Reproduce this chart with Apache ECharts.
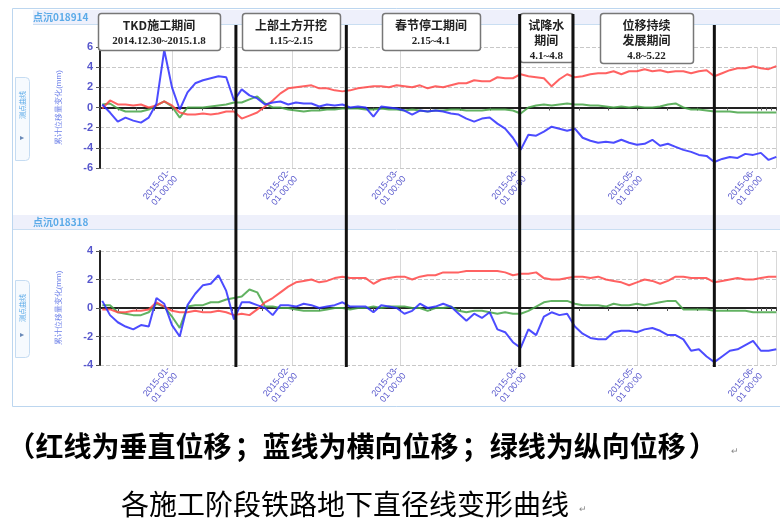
<!DOCTYPE html>
<html><head><meta charset="utf-8">
<script src="https://cdn.jsdelivr.net/npm/echarts@6/dist/echarts.min.js"></script>
<style>html,body{margin:0;padding:0;background:#fff}#c{width:780px;height:526px}</style>
</head><body><div id="c"></div>
<script>
// sample dates: every 2 days from 2014-12-14
const sampleStart = [2014, 11, 14];
const sampleStepDays = 2;

const topRed = [-0.1,0.7,0.3,0.3,0.2,0.3,0.0,0.2,0.6,0.2,
 -0.5,-0.7,-0.7,-0.6,-0.7,-0.6,-0.4,-0.4,-1.1,-0.8,
 -0.5,0.1,0.7,1.4,1.9,2.0,2.1,2.2,1.9,1.9,
 1.7,1.6,1.7,1.9,2.0,2.1,2.1,2.0,2.2,2.1,
 2.0,2.2,1.9,2.1,2.0,2.2,2.4,2.4,2.7,2.6,
 2.6,3.0,2.9,2.9,3.3,3.1,3.0,2.9,2.1,2.8,
 3.3,3.0,3.1,3.3,3.4,3.4,3.6,3.3,3.6,3.6,
 3.8,3.6,3.7,3.5,3.6,3.6,3.4,3.6,3.7,3.1,
 3.4,3.7,3.9,3.9,4.1,3.9,3.8,4.1];
const topBlue = [0.3,-0.5,-1.4,-1.0,-1.3,-1.5,-1.0,0.4,5.7,2.0,
 -0.2,1.5,2.4,2.7,2.9,3.1,3.0,0.7,1.8,1.2,
 0.9,0.3,0.5,0.6,0.3,0.5,0.4,0.4,0.1,0.3,
 0.2,0.3,0.0,0.1,0.0,-0.9,0.1,0.0,-0.1,-0.3,
 -0.7,-0.3,-0.4,-0.3,-0.4,-0.6,-0.7,-1.1,-1.4,-1.1,
 -1.0,-1.6,-2.1,-3.0,-4.2,-2.7,-2.8,-2.4,-1.9,-2.1,
 -2.3,-2.1,-3.0,-3.3,-3.5,-3.4,-3.5,-3.2,-3.5,-3.7,
 -3.6,-3.2,-3.8,-3.6,-3.9,-4.2,-4.4,-4.7,-4.8,-5.4,
 -5.1,-4.9,-5.0,-4.6,-4.7,-4.5,-5.2,-4.9];
const topGreen = [0.3,0.4,-0.1,-0.4,-0.4,-0.4,-0.2,0.2,0.6,0.1,
 -1.0,0.0,0.0,0.0,0.1,0.2,0.3,0.5,0.5,0.8,
 1.1,0.4,0.0,0.0,-0.2,-0.3,-0.4,-0.3,-0.3,-0.2,
 -0.2,-0.1,-0.1,-0.1,-0.2,-0.2,-0.1,-0.2,-0.2,-0.3,
 -0.2,-0.3,-0.4,-0.3,-0.3,-0.2,-0.2,-0.3,-0.3,-0.3,
 -0.2,-0.2,-0.2,-0.3,-0.6,0.0,0.2,0.3,0.2,0.3,
 0.4,0.3,0.3,0.2,0.2,0.1,0.0,0.1,0.0,0.1,
 0.0,0.0,0.1,0.3,0.4,0.0,-0.2,-0.2,-0.3,-0.4,
 -0.4,-0.4,-0.5,-0.5,-0.5,-0.5,-0.5,-0.5];

const bottomRed = [-0.1,-0.1,-0.3,-0.3,-0.2,-0.2,-0.1,0.4,0.1,-0.2,
 -0.3,-0.3,-0.2,-0.3,-0.3,-0.2,-0.3,-0.5,-0.4,-0.5,
 -0.1,0.4,0.7,1.1,1.5,1.8,1.9,2.0,1.8,1.9,
 2.1,2.2,2.1,2.1,2.1,1.7,2.0,2.1,2.2,2.2,
 2.0,2.2,2.3,2.3,2.5,2.5,2.5,2.6,2.6,2.6,
 2.6,2.6,2.5,2.3,2.4,2.4,2.5,2.1,2.0,2.0,
 2.1,2.2,2.2,2.1,2.2,2.0,1.9,1.8,1.6,1.8,
 2.0,1.9,1.7,1.9,2.2,2.2,2.1,2.1,2.1,1.8,
 1.9,2.0,2.1,2.0,2.0,2.1,2.2,2.2];
const bottomBlue = [0.5,-0.5,-1.0,-1.3,-1.5,-1.2,-1.3,0.7,0.3,-1.2,
 -2.0,0.2,1.0,1.6,1.7,2.3,1.2,-0.8,0.4,0.4,
 0.2,0.0,-0.5,0.2,0.2,0.1,0.3,0.2,0.0,0.1,
 0.2,0.4,0.1,0.1,0.1,-0.3,0.2,0.1,0.0,-0.4,
 -0.2,0.3,0.0,0.1,0.3,0.1,-0.4,-0.9,-0.4,-0.7,
 -0.3,-1.5,-1.7,-2.4,-2.8,-1.5,-1.9,-0.6,-0.3,-0.5,
 -0.4,-1.3,-1.8,-2.1,-2.2,-2.2,-1.7,-1.6,-1.6,-1.7,
 -1.5,-1.4,-1.6,-1.9,-1.9,-2.2,-3.0,-2.9,-3.4,-3.8,
 -3.4,-3.0,-2.9,-2.6,-2.3,-3.0,-3.0,-2.9];
const bottomGreen = [0.2,0.2,-0.3,-0.4,-0.5,-0.5,-0.3,0.3,0.1,-0.6,
 -1.4,0.1,0.2,0.2,0.4,0.4,0.6,0.7,0.8,1.3,
 1.1,0.1,0.1,0.0,0.0,-0.1,-0.2,-0.2,-0.2,-0.1,
 0.0,0.0,-0.1,0.0,0.0,0.1,0.0,0.1,0.1,0.1,
 0.0,0.0,-0.2,0.0,0.0,0.1,-0.2,-0.3,-0.2,-0.2,
 -0.3,-0.4,-0.3,-0.4,-0.4,-0.2,0.1,0.4,0.5,0.5,
 0.5,0.3,0.2,0.2,0.2,0.1,0.3,0.2,0.2,0.3,
 0.2,0.3,0.4,0.5,0.5,-0.1,-0.1,-0.1,-0.1,-0.2,
 -0.2,-0.2,-0.2,-0.2,-0.3,-0.3,-0.3,-0.3];

const topYTicks = [-6, 6, 2];
const bottomYTicks = [-4, 4, 2];
const panelTitles = ['点沉018914', '点沉018318'];
const yAxisName = '累计位移量变化(mm)';
const tabText = '测点曲线';
const phaseDates = [[2015,0,17,12],[2015,1,15,0],[2015,2,31,18],[2015,3,14,12],[2015,4,21,0]];
const phaseTitles = ['TKD施工期间', '上部土方开挖', '春节停工期间', '试降水\n期间', '位移持续\n发展期间'];
const phaseRanges = ['2014.12.30~2015.1.8', '1.15~2.15', '2.15~4.1', '4.1~4.8', '4.8~5.22'];
const captionLine1 = '（红线为垂直位移；蓝线为横向位移；绿线为纵向位移）';
const captionLine2 = '各施工阶段铁路地下直径线变形曲线';

const dates = topRed.map((_, i) => new Date(sampleStart[0], sampleStart[1], sampleStart[2] + sampleStepDays * i).getTime());
const xMin = new Date(2014, 11, 13, 10).getTime();
const xMax = new Date(2015, 5, 5, 22).getTime();
const DAY = 86400000;

const RED = 'rgba(255,70,70,0.85)', BLUE = 'rgba(45,45,255,0.85)', GREEN = 'rgba(70,165,70,0.85)';
const LABEL_BLUE = '#5656cc';

function fmtDate(v) {
  const d = new Date(v);
  return d.getFullYear() + '-' + String(d.getMonth() + 1).padStart(2, '0') + '-\n' + String(d.getDate()).padStart(2, '0') + ' 00:00';
}
function xAxis(gi) {
  return {
    type: 'time', gridIndex: gi, min: xMin, max: xMax,
    minInterval: 28 * DAY, maxInterval: 31 * DAY, splitNumber: 6,
    axisLine: { lineStyle: { color: '#222', width: 2 } },
    axisTick: { show: true, length: 3, lineStyle: { color: '#444' } },
    minorTick: { show: true, splitNumber: 4, length: 3, lineStyle: { color: '#555' } },
    splitLine: { show: true, lineStyle: { color: '#d8d8d8', width: 1 } },
    axisLabel: { rotate: 50, fontSize: 9, color: LABEL_BLUE, margin: 6, formatter: fmtDate, lineHeight: 10 }
  };
}
function yAxis(gi, t) {
  return {
    type: 'value', gridIndex: gi, min: t[0], max: t[1], interval: t[2],
    name: yAxisName, nameLocation: 'middle', nameGap: 37, nameRotate: 90,
    nameTextStyle: { color: '#6a7ee8', fontSize: 8 },
    axisLine: { show: true, lineStyle: { color: '#222', width: 2 } },
    axisTick: { show: true, length: 4, lineStyle: { color: '#555' } },
    axisLabel: { color: LABEL_BLUE, fontSize: 11, fontWeight: 'bold', margin: 7 },
    splitLine: { show: true, lineStyle: { color: '#c8c8c8', type: 'dashed' } }
  };
}
function ser(gi, arr, color, z) {
  return {
    type: 'line', xAxisIndex: gi, yAxisIndex: gi, symbol: 'none', z: z,
    data: dates.map((t, i) => [t, arr[i]]),
    lineStyle: { color: color, width: 2 }, emphasis: { disabled: true }
  };
}

const chart = echarts.init(document.getElementById('c'));
chart.setOption({
  animation: false,
  backgroundColor: '#fff',
  grid: [
    { left: 100, top: 47, width: 676, height: 121 },
    { left: 100, top: 251, width: 676, height: 114 }
  ],
  xAxis: [xAxis(0), xAxis(1)],
  yAxis: [yAxis(0, topYTicks), yAxis(1, bottomYTicks)],
  series: [
    ser(0, topGreen, GREEN, 3), ser(0, topRed, RED, 4), ser(0, topBlue, BLUE, 5),
    ser(1, bottomGreen, GREEN, 3), ser(1, bottomRed, RED, 4), ser(1, bottomBlue, BLUE, 5)
  ]
});

const phaseX = phaseDates.map(p => chart.convertToPixel({ gridIndex: 0 }, [new Date(p[0], p[1], p[2], p[3]).getTime(), 0])[0]);
const boxRects = [[98, 13, 122, 37], [242, 13, 98, 37], [382, 13, 98, 37], [phaseX[2], 13, phaseX[3] - phaseX[2], 49], [600, 13, 93, 50]];

const g = [];
// frame
g.push({ type: 'rect', z: 0, shape: { x: 12.5, y: 8.5, width: 780, height: 398 }, style: { fill: 'none', stroke: '#bcd6ef', lineWidth: 1 } });
g.push({ type: 'rect', z: 0, shape: { x: 33, y: 10, width: 747, height: 14 }, style: { fill: '#eef0fb' } });
g.push({ type: 'line', z: 0, shape: { x1: 33, y1: 24.5, x2: 780, y2: 24.5 }, style: { stroke: '#c9def2', lineWidth: 1 } });
g.push({ type: 'rect', z: 0, shape: { x: 13, y: 215, width: 767, height: 14 }, style: { fill: '#eef0fb' } });
g.push({ type: 'line', z: 0, shape: { x1: 13, y1: 229.5, x2: 780, y2: 229.5 }, style: { stroke: '#c9def2', lineWidth: 1 } });
[[17, panelTitles[0]], [222, panelTitles[1]]].forEach(([y, t]) => {
  g.push({ type: 'text', z: 1, x: 33, y: y, style: { text: t, font: 'bold 10px "Noto Sans CJK SC"', fill: '#5aaae8', verticalAlign: 'middle', textVerticalAlign: 'middle' } });
});
[[77, 83], [280, 77]].forEach(([y, h]) => {
  g.push({ type: 'rect', z: 1, shape: { x: 15.5, y: y + 0.5, width: 14, height: h, r: [0, 4, 4, 0] }, style: { fill: '#f6fafe', stroke: '#c5dcf2', lineWidth: 1 } });
  g.push({ type: 'text', z: 2, x: 22.5, y: y + 28, rotation: Math.PI / 2, style: { text: tabText, font: '7px "Noto Sans CJK SC"', fill: '#5aaae8', align: 'center', verticalAlign: 'middle', textAlign: 'center', textVerticalAlign: 'middle' } });
  g.push({ type: 'text', z: 2, x: 22.5, y: y + h - 22, rotation: Math.PI / 2, style: { text: '▼', font: '7px sans-serif', fill: '#6a8ab8', align: 'center', verticalAlign: 'middle', textAlign: 'center', textVerticalAlign: 'middle' } });
});
// annotation boxes
boxRects.forEach((b, i) => {
  g.push({ type: 'rect', z: 60, shape: { x: b[0] + 0.5, y: b[1] + 0.5, width: b[2], height: b[3], r: 3 }, style: { fill: '#fff', stroke: '#777', lineWidth: 1.5 } });
  const cx = b[0] + b[2] / 2;
  const tl = phaseTitles[i].split('\n');
  tl.forEach((t, k) => {
    g.push({ type: 'text', z: 61, x: cx, y: b[1] + 12 + k * 15, style: { text: t, font: 'bold 12px "Noto Sans CJK SC"', fill: '#222', align: 'center', verticalAlign: 'middle', textAlign: 'center', textVerticalAlign: 'middle' } });
  });
  g.push({ type: 'text', z: 61, x: cx, y: b[1] + 12 + tl.length * 15 + 1, style: { text: phaseRanges[i], font: 'bold 11px "Liberation Serif"', fill: '#222', align: 'center', verticalAlign: 'middle', textAlign: 'center', textVerticalAlign: 'middle' } });
});
// phase lines
phaseX.forEach((x, i) => {
  const top = (i === 2 || i === 3) ? 14 : 25;
  g.push({ type: 'line', z: 70, shape: { x1: x, y1: top, x2: x, y2: 367 }, style: { stroke: '#111', lineWidth: 3 } });
});
// caption line 1: laid out on a full-width grid so the punctuation keeps a full em
const capFont1 = 'bold 28px "Noto Sans CJK SC"';
const capSlot = 28.4, capX0 = 7;
let capIdx = 0;
(captionLine1.match(/[（）；]|[^（）；]+/g) || []).forEach(seg => {
  const isP = /^[（）；]$/.test(seg);
  const x0 = capX0 + capIdx * capSlot;
  g.push({ type: 'text', z: 10, x: isP ? x0 + capSlot / 2 : x0, y: 446, style: {
    text: seg, font: capFont1, fill: '#000', align: isP ? 'center' : 'left', textAlign: isP ? 'center' : 'left',
    verticalAlign: 'middle', textVerticalAlign: 'middle' } });
  capIdx += seg.length;
});
g.push({ type: 'text', z: 10, x: 731, y: 452, style: { text: '↵', font: '9px sans-serif', fill: '#888', verticalAlign: 'middle', textVerticalAlign: 'middle' } });
g.push({ type: 'text', z: 10, x: 121, y: 504, style: { text: captionLine2, font: '28px "Noto Sans CJK SC"', fill: '#000', verticalAlign: 'middle', textVerticalAlign: 'middle' } });
g.push({ type: 'text', z: 10, x: 579, y: 510, style: { text: '↵', font: '9px sans-serif', fill: '#888', verticalAlign: 'middle', textVerticalAlign: 'middle' } });

chart.setOption({ graphic: { elements: g } });
</script>
</body></html>
